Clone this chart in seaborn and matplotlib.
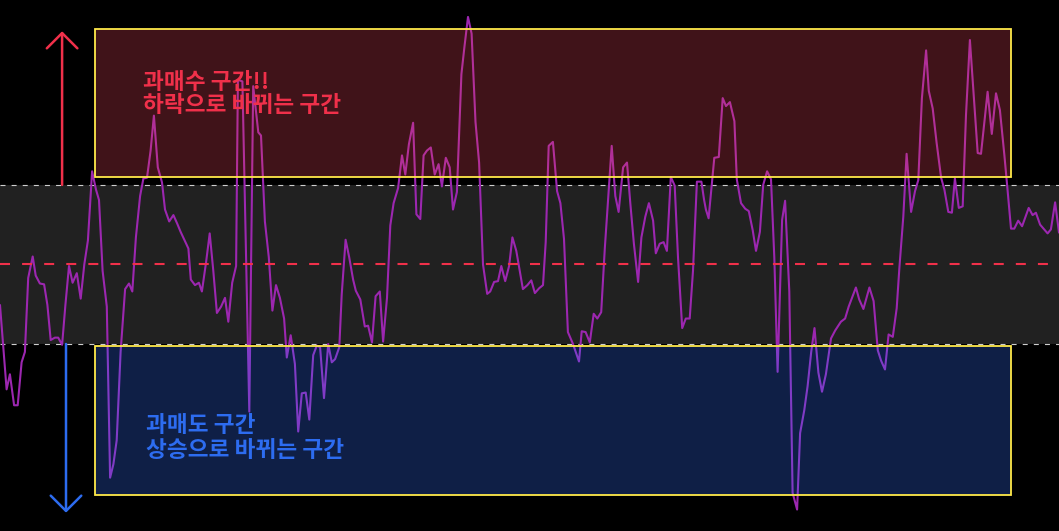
import numpy as np
import matplotlib.pyplot as plt
import seaborn as sns
from matplotlib.patches import Rectangle

# oscillator readings: x = bar index (3 px per bar), y = indicator value
idx_a = [0.0, 2.2, 3.3, 4.7, 5.9, 7.2, 8.3, 9.4, 10.9, 11.9,
         13.3, 14.7, 15.8, 16.9, 18.3, 19.4, 20.7, 21.8, 23.0, 24.2,
         25.6, 26.9, 28.1, 29.3, 30.7, 32.0, 33.0, 34.2, 35.6, 36.7,
         37.8, 38.9, 40.2, 41.7, 43.0, 44.1, 45.3, 46.7, 47.8, 49.0,
         50.2, 51.3, 52.6, 54.0, 55.0, 56.4, 57.8, 59.1, 60.2, 62.8,
         63.6, 65.0, 66.3, 67.3, 68.7, 69.9, 71.1, 72.3, 73.7, 75.0,
         76.1, 77.4, 78.7, 79.3, 80.8, 83.1, 84.4, 86.1, 87.0, 88.3,
         89.6, 90.8, 92.0, 93.3, 94.7, 95.6, 96.9, 98.3, 99.4, 100.6,
         101.9, 103.1, 104.4, 105.6, 106.7, 108.0, 109.4, 110.6, 111.7, 113.1,
         113.9, 115.2, 116.4]
osc_a = [-51, -157, -138, -177, -177, -123, -110, -17, 10, -14,
         -24, -25, -51, -95, -92, -92, -101, -51, -2, -23,
         -11, -43, 0, 30, 117, 94, 81, -8, -53, -268,
         -251, -221, -110, -31, -24, -34, 34, 86, 108, 109,
         143, 187, 122, 103, 69, 54, 62, 51, 41, 20,
         -19, -26, -23, -34, 3, 39, -8, -61, -53, -42,
         -72, -23, -2, 232, 230, -185, 224, 166, 162, 54,
         9, -58, -26, -42, -68, -117, -89, -125, -210, -162,
         -161, -195, -114, -102, -104, -168, -100, -123, -119, -104,
         -38, 31, 9]

idx_b = [117.7, 118.6, 120.1, 121.6, 122.7, 124.0, 125.2, 126.6, 127.7, 129.0,
         130.1, 131.2, 132.7, 134.0, 135.1, 136.3, 137.7, 138.8, 140.1, 141.2,
         142.3, 143.6, 144.9, 146.2, 147.3, 148.6, 149.9, 151.0, 152.3, 153.8,
         154.8, 156.0, 157.2, 158.5, 159.7, 161.0, 162.4, 163.4, 164.7, 166.0,
         167.1, 168.4, 169.7, 170.8, 172.1, 174.3, 175.8, 177.1, 178.3, 179.7,
         181.0, 181.9, 182.9, 184.3, 185.7, 186.8, 188.0, 189.3, 191.0, 193.0,
         193.9, 195.2, 196.6, 197.9, 199.1, 200.4, 201.6, 202.9, 203.9, 205.1,
         206.2, 207.7, 209.0, 210.1, 211.3, 212.7, 213.8, 215.1, 216.3, 217.7,
         218.6, 219.9, 221.2, 222.3, 223.6, 224.9, 226.0, 227.4, 228.6, 229.9,
         231.0, 232.3, 233.8, 234.7]
osc_b = [-19, -33, -44, -78, -77, -98, -40, -34, -97, -42,
         49, 77, 96, 137, 113, 151, 178, 63, 57, 137,
         143, 147, 113, 126, 98, 134, 122, 69, 91, 239,
         273, 311, 290, 179, 128, 0, -37, -34, -22, -21,
         -2, -21, -2, 34, 17, -31, -26, -20, -36, -30,
         -26, 28, 149, 154, 92, 77, 32, -85, -100, -122,
         -84, -85, -98, -62, -68, -60, 20, 92, 149, 86,
         66, 122, 128, 77, 26, -22, 34, 60, 77, 55,
         14, 26, 28, 17, 110, 99, 9, -80, -68, -68,
         -8, 104, 104, 81]

idx_c = [235.3, 236.2, 238.1, 239.6, 240.9, 242.0, 243.3, 244.8, 245.6, 247.0,
         248.4, 249.6, 250.9, 252.0, 253.3, 254.4, 255.7, 257.0, 258.1, 259.2,
         260.7, 261.7, 263.1, 264.2, 265.7, 266.7, 268.1, 269.2, 270.4, 271.5,
         272.8, 274.0, 275.3, 277.0, 278.4, 280.3, 281.7, 282.9, 285.3, 286.4,
         287.8, 289.8, 291.2, 292.6, 293.7, 295.0, 296.2, 297.6, 298.9, 299.8,
         301.1, 302.2, 303.7, 305.0, 306.1, 307.3, 308.7, 309.6, 310.9, 312.2,
         313.7, 314.8, 316.1, 317.3, 318.3, 319.6, 320.9, 322.0, 323.3, 324.5,
         325.9, 327.0, 329.2, 330.6, 332.0, 333.3, 334.8, 335.7, 337.0, 338.1,
         339.4, 340.7, 342.9, 344.2, 345.3, 346.7, 349.2, 350.3, 351.7, 353.0]
osc_c = [69, 58, 134, 135, 209, 199, 204, 180, 107, 77,
         70, 67, 43, 17, 41, 100, 117, 107, 9, -135,
         56, 80, -34, -287, -308, -212, -183, -153, -110, -80,
         -136, -160, -138, -93, -83, -72, -68, -53, -29, -44,
         -56, -29, -46, -108, -121, -132, -88, -91, -55, -4,
         60, 139, 66, 92, 106, 209, 269, 218, 196, 153,
         109, 94, 66, 65, 108, 71, 73, 188, 282, 217,
         140, 139, 217, 164, 215, 194, 137, 100, 45, 45,
         55, 48, 71, 62, 65, 50, 39, 44, 78, 40]

upper_band, lower_band = 100, -100
overbought_zone = (110, 296)
oversold_zone = (-290, -103)
zone_span = (31.7, 337.0)
overbought_text = ["과매수 구간!!", "하락으로 바뀌는 구간"]
oversold_text = ["과매도 구간", "상승으로 바뀌는 구간"]

idx = np.concatenate([idx_a, idx_b, idx_c])
osc = np.concatenate([osc_a, osc_b, osc_c])

sns.set_theme(style="dark")
plt.rcParams['font.family'] = ['Noto Sans CJK KR', 'DejaVu Sans']

red = '#f0304a'
blue = '#2d6cf0'
edge = '#ffe94a'

fig = plt.figure(figsize=(10.59, 5.31), dpi=100, facecolor='black')
ax = fig.add_axes([0, 0, 1, 1])
ax.set_facecolor('black')

# neutral band + guide lines
ax.axhspan(lower_band, upper_band, color='#212121', lw=0, zorder=0)
for lvl in (upper_band, lower_band):
    ax.axhline(lvl, color='#cfcfcf', lw=0.8, dashes=(4.5, 5.5), zorder=1)

sns.lineplot(x=idx, y=osc, ax=ax, color='#9c27b0', lw=1.5,
             sort=False, estimator=None, zorder=2)

ax.axhline(0, color=red, lw=1.5, dashes=(4.8, 5.8), zorder=2.5)

# translucent zone boxes over the line
x0, x1 = zone_span
ax.add_patch(Rectangle((x0, overbought_zone[0]), x1 - x0,
                       overbought_zone[1] - overbought_zone[0],
                       facecolor=(0.91, 0.28, 0.36, 0.28),
                       edgecolor=edge, lw=1.3, zorder=3))
ax.add_patch(Rectangle((x0, oversold_zone[0]), x1 - x0,
                       oversold_zone[1] - oversold_zone[0],
                       facecolor=(0.22, 0.44, 1.0, 0.28),
                       edgecolor=edge, lw=1.3, zorder=3))

# arrows
head = '->,head_length=1.1,head_width=1.1'
ax.annotate('', xy=(20.7, 293), xytext=(20.7, upper_band),
            arrowprops=dict(arrowstyle=head, color=red, lw=1.8,
                            shrinkA=0, shrinkB=0, mutation_scale=10), zorder=4)
ax.annotate('', xy=(22.0, -312), xytext=(22.0, lower_band),
            arrowprops=dict(arrowstyle=head, color=blue, lw=1.8,
                            shrinkA=0, shrinkB=0, mutation_scale=10), zorder=4)

for txt, yy in zip(overbought_text, (228.6, 199.1)):
    ax.text(47.8, yy, txt, color=red, fontsize=16.3, fontweight='bold',
            ha='left', va='center', zorder=5)
for txt, yy in zip(oversold_text, (-202.4, -233.8)):
    ax.text(48.8, yy, txt, color=blue, fontsize=16.3, fontweight='bold',
            ha='left', va='center', zorder=5)

ax.set_xlim(0, 353)
ax.set_ylim(-335, 332.3)
ax.axis('off')

plt.savefig("out.png", dpi=100, facecolor='black')
plt.close()
